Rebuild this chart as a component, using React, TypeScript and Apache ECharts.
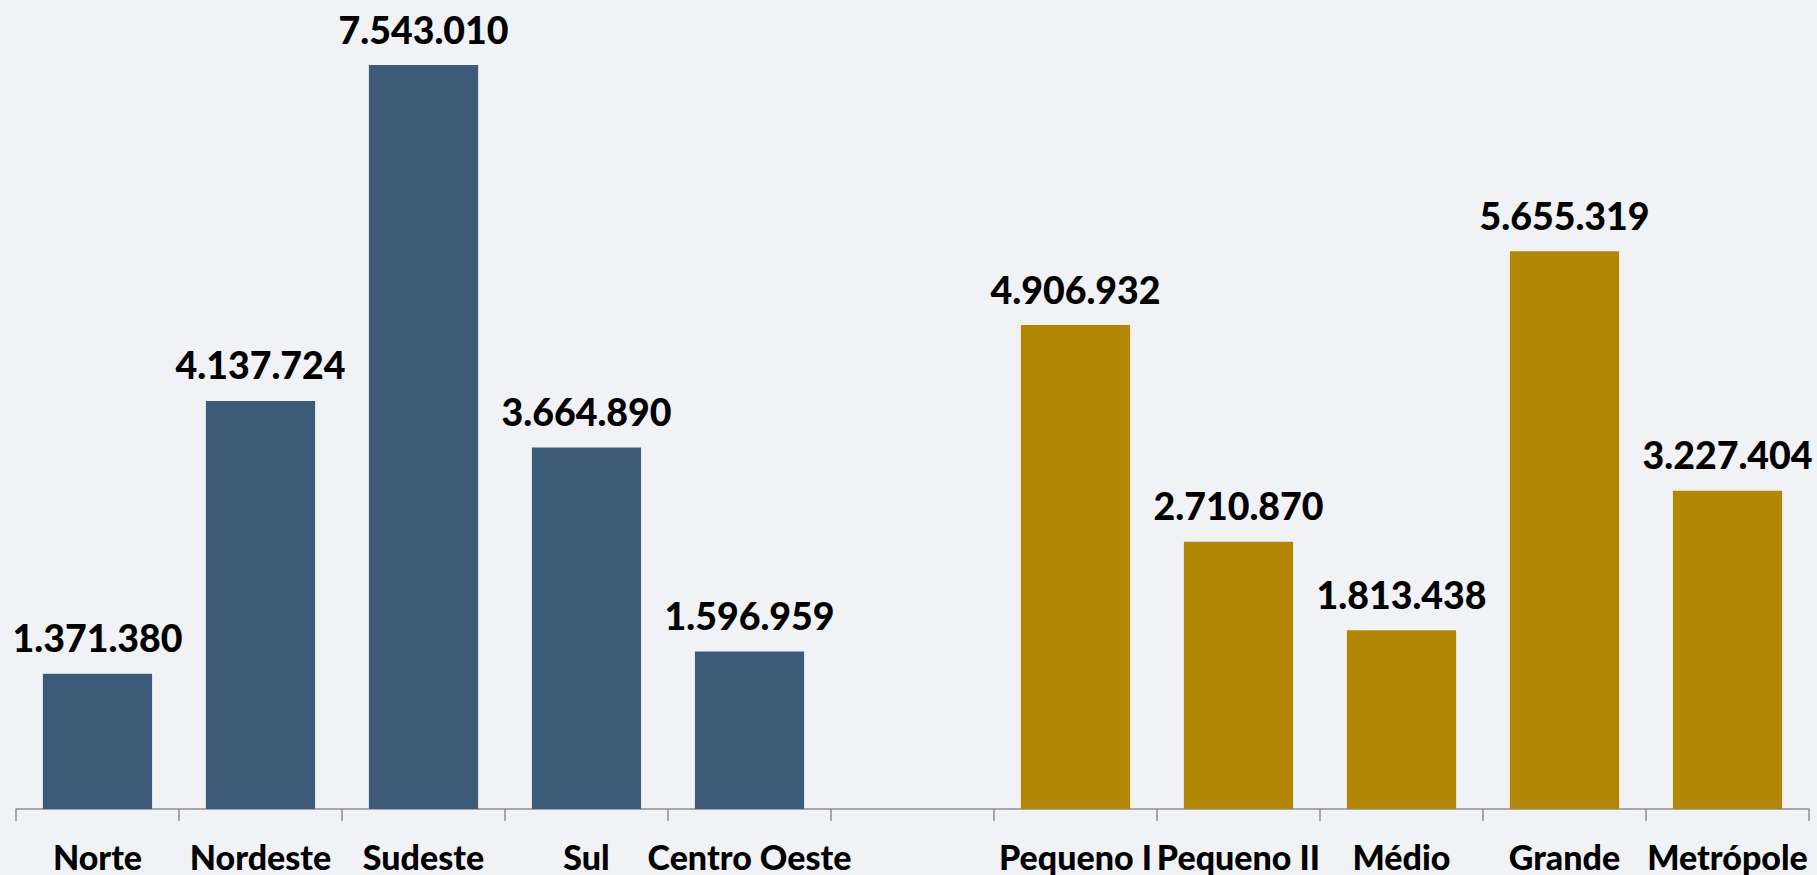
import React, { useEffect, useRef } from "react";
import * as echarts from "echarts";

const categories = [
  "Norte",
  "Nordeste",
  "Sudeste",
  "Sul",
  "Centro Oeste",
  "",
  "Pequeno I",
  "Pequeno II",
  "Médio",
  "Grande",
  "Metrópole",
];

const regionValues = [1371380, 4137724, 7543010, 3664890, 1596959, null, null, null, null, null, null];
const sizeValues = [null, null, null, null, null, null, 4906932, 2710870, 1813438, 5655319, 3227404];

const fmt = (v: number) => String(v).replace(/\B(?=(\d{3})+(?!\d))/g, ".");

export default function App() {
  const ref = useRef<HTMLDivElement>(null);
  useEffect(() => {
    if (!ref.current) return;
    const chart = echarts.init(ref.current, null, { renderer: "svg" });
    const label = {
      show: true,
      position: "top",
      distance: 17,
      fontFamily: "Lato",
      fontWeight: 900,
      fontSize: 37.5,
      color: "#000000",
      formatter: (p: any) => fmt(p.value),
    };
    chart.setOption({
      animation: false,
      backgroundColor: "#f1f2f6",
      grid: { left: 16, right: 8, top: 20, bottom: 66, containLabel: false },
      xAxis: {
        type: "category",
        data: categories,
        axisLine: { lineStyle: { color: "#8e8e8e", width: 1.5 } },
        axisTick: { show: true, length: 12, lineStyle: { color: "#8e8e8e", width: 1.5 } },
        axisLabel: {
          interval: 0,
          margin: 30,
          fontFamily: "Lato",
          fontWeight: 900,
          fontSize: 34,
          color: "#000000",
        },
      },
      yAxis: {
        type: "value",
        min: 0,
        max: 8000000,
        show: false,
        splitLine: { show: false },
      },
      series: [
        {
          type: "bar",
          stack: "all",
          data: regionValues,
          barCategoryGap: "33%",
          itemStyle: { color: "#3d5b78" },
          label,
        },
        {
          type: "bar",
          stack: "all",
          data: sizeValues,
          barCategoryGap: "33%",
          itemStyle: { color: "#b38706" },
          label,
        },
      ],
    });
    return () => chart.dispose();
  }, []);
  return (
    <div
      ref={ref}
      style={{ position: "fixed", left: 0, top: 0, width: 1817, height: 875 }}
    />
  );
}
